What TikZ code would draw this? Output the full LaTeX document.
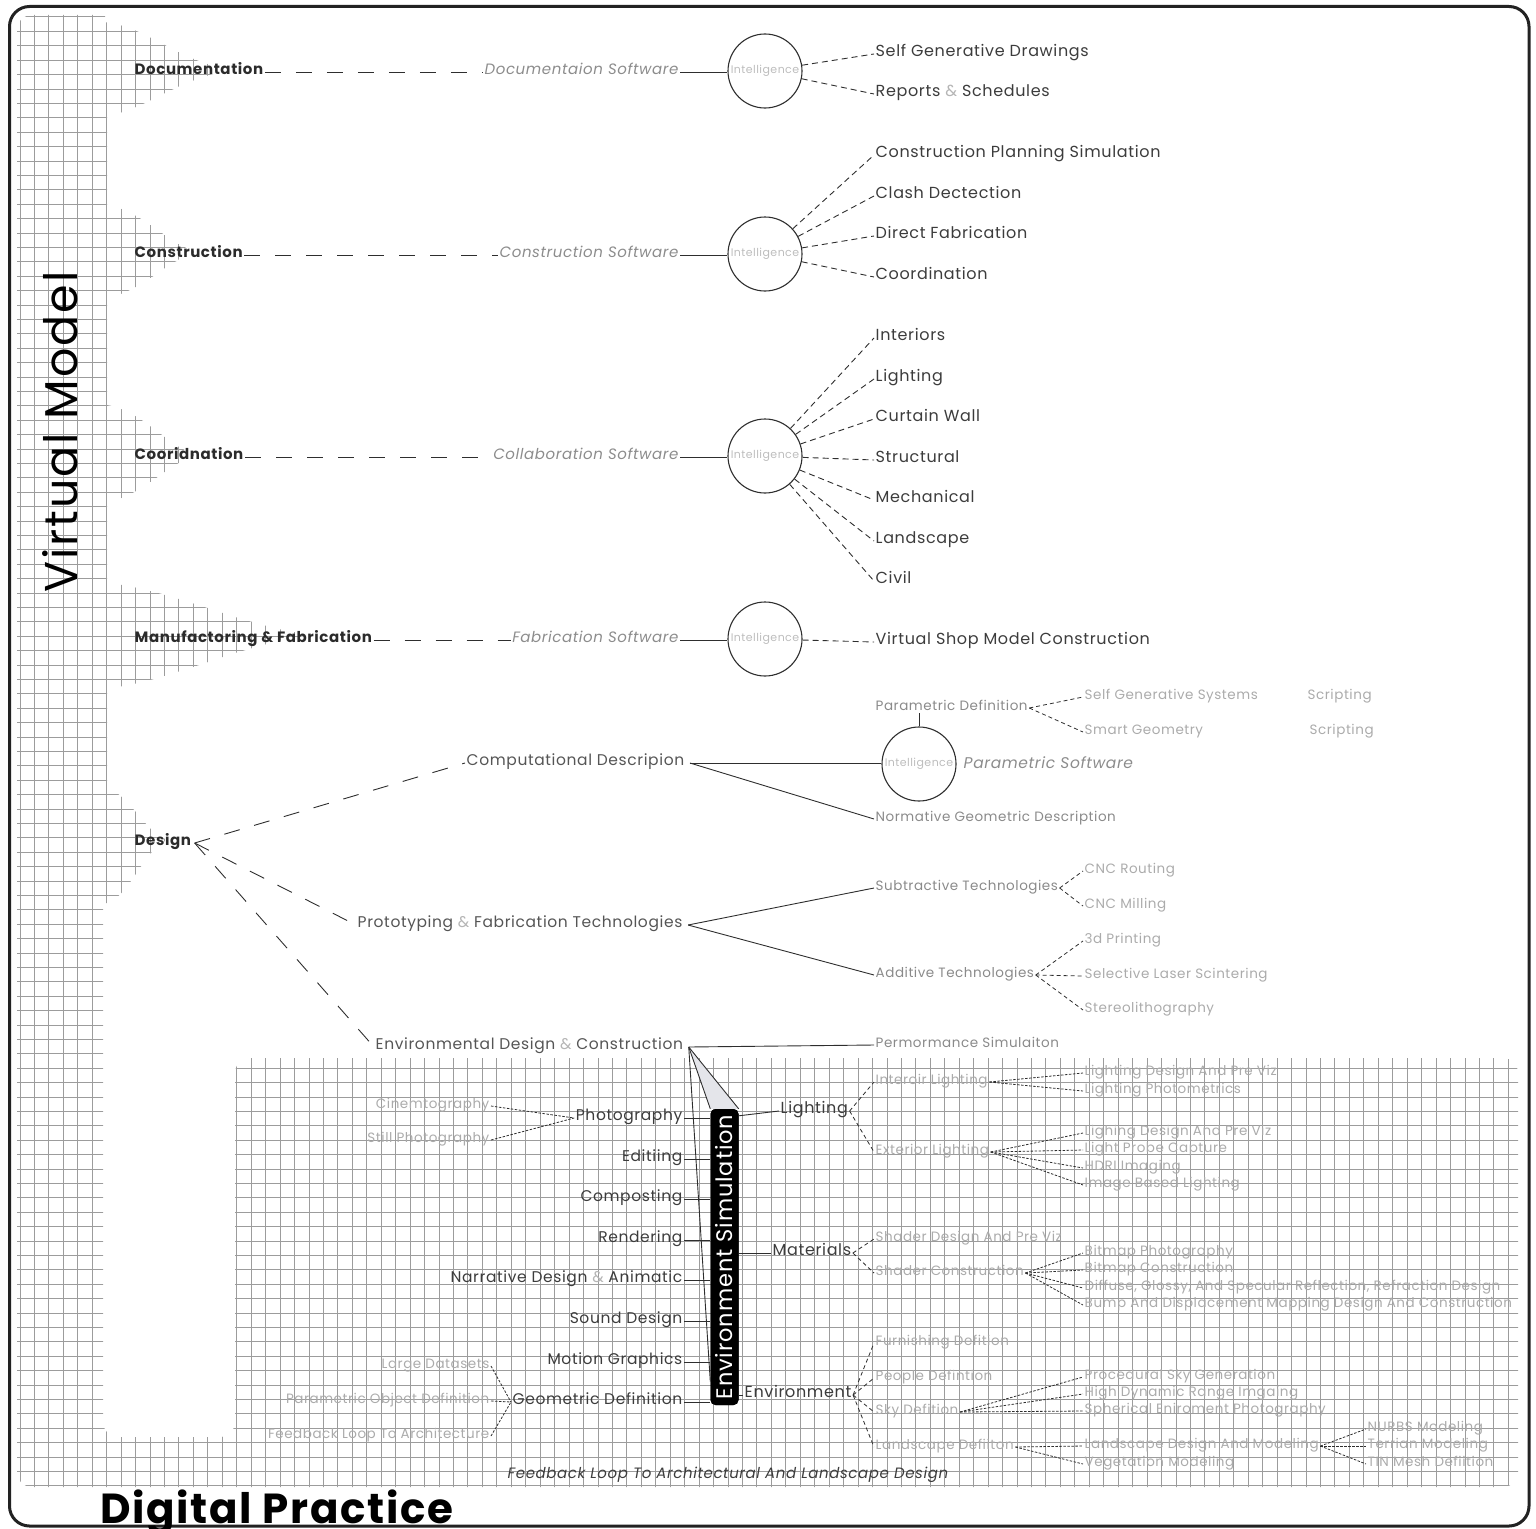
\documentclass[tikz,border=0pt]{standalone}
\usepackage{fontspec}
\setmainfont{Poppins}[LetterSpace=4]
\usetikzlibrary{calc}

\definecolor{framec}{HTML}{222222}
\definecolor{gridc}{HTML}{9C9C9C}
\definecolor{topc}{HTML}{2B2B2B}
\definecolor{itemc}{HTML}{3C3C3C}
\definecolor{subc}{HTML}{555555}
\definecolor{midc}{HTML}{8A8A8A}
\definecolor{faintc}{HTML}{ABABAB}
\definecolor{softc}{HTML}{8C8C8C}
\definecolor{intc}{HTML}{BDBDBD}
\definecolor{ampc}{HTML}{B5B5B5}
\definecolor{fillc}{HTML}{E4E5EA}
\definecolor{linec}{HTML}{2E2E2E}

\newcommand\fsz[1]{\fontsize{#1}{#1}\selectfont}
\newcommand\amp{\textcolor{ampc}{\&}}

\tikzset{
  lbl/.style={inner sep=1.5pt, anchor=mid west, yshift=-3pt},
  rlbl/.style={inner sep=1.5pt, anchor=mid east, yshift=-3pt},
  toplbl/.style={lbl, font=\fsz{15}\bfseries, text=topc},
  item/.style={lbl, font=\fsz{16}, text=itemc},
  itemr/.style={rlbl, font=\fsz{15.5}, text=itemc},
  sublbl/.style={lbl, font=\fsz{15.5}, text=subc},
  midlbl/.style={lbl, font=\fsz{13.5}, text=midc},
  faint/.style={lbl, font=\fsz{13.5}, text=faintc},
  faintr/.style={rlbl, font=\fsz{13.5}, text=faintc},
  soft/.style={rlbl, font=\fsz{15}\itshape, text=softc},
  intel/.style={circle, draw=linec, line width=1.1pt, minimum size=74pt,
                inner sep=0pt, font=\fsz{11}, text=intc},
  wire/.style={draw=linec, line width=0.9pt},
  longdash/.style={wire, dash pattern=on 16pt off 15pt},
  branch/.style={wire, dash pattern=on 6pt off 4pt},
  twig/.style={wire, line width=0.8pt, dash pattern=on 4pt off 3pt},
  fine/.style={wire, line width=0.8pt, dash pattern=on 2.5pt off 1.5pt},
  gridline/.style={draw=gridc, line width=1pt},
  simbar/.style={rotate=90, fill=black, rounded corners=5pt, minimum width=296pt,
                 minimum height=28pt, inner sep=0pt, text=white, font=\fsz{22.5}},
}

\begin{document}
\begin{tikzpicture}[x=1pt,y=-1pt]
\useasboundingbox (0,0) rectangle (1536,1528);

% ---------- graph paper: left column with bells, and the lower field ----------
\begin{scope}
  \clip (17,15) -- (105,15) -- (105,22)
    .. controls (150,28) and (178,62) .. (233,70)
    .. controls (178,78) and (150,108) .. (107,116) -- (107,205)
    .. controls (145,212) and (168,245) .. (198,252)
    .. controls (168,259) and (145,290) .. (107,298) -- (107,405)
    .. controls (145,412) and (168,448) .. (198,455)
    .. controls (168,462) and (145,495) .. (107,502) -- (107,583)
    .. controls (175,590) and (240,626) .. (313,635)
    .. controls (240,644) and (175,680) .. (110,688) -- (107,690) -- (107,788)
    .. controls (130,795) and (145,833) .. (168,840)
    .. controls (145,847) and (130,896) .. (107,903) -- (103,906)
    [rounded corners=15pt] -- (103,1437) -- (235,1437) -- (235,1058)
    -- (1518,1058) -- (1518,1487) -- (17,1487) -- cycle;
  \foreach \i in {0,...,104}
    \draw[gridline] ({20+14.45*\i},10) -- ({20+14.45*\i},1495);
  \foreach \j in {0,...,102}
    \draw[gridline] (10,{17+14.4*\j}) -- (1525,{17+14.4*\j});
\end{scope}

% ---------- frame and titles ----------
\draw[framec, line width=3pt, rounded corners=20pt] (9.5,6.5) rectangle (1529,1526);
\node[rotate=90, font=\fsz{46}, text=black, inner sep=0pt] (vm) at (60,432) {Virtual Model};
\node[anchor=base west, inner sep=0pt, font=\fsz{42}\bfseries, text=black] (dp) at (100,1523) {Digital Practice};

% ---------- top level disciplines ----------
\node[toplbl] (doc) at (133,69) {Documentation};
\node[toplbl] (con) at (133,252) {Construction};
\node[toplbl] (coo) at (133,454) {Cooridnation};
\node[toplbl] (man) at (133,637) {Manufactoring \& Fabrication};
\node[toplbl] (des) at (133,840) {Design};

\node[soft] (sw1) at (680,69) {Documentaion Software};
\node[soft] (sw2) at (680,252) {Construction Software};
\node[soft] (sw3) at (680,454) {Collaboration Software};
\node[soft] (sw4) at (680,637) {Fabrication Software};

\node[intel] (in1) at (765,71) {Intelligence};
\node[intel] (in2) at (765,254) {Intelligence};
\node[intel] (in3) at (765,456) {Intelligence};
\node[intel] (in4) at (765,639) {Intelligence};

\draw[longdash] (doc.mid east) -- (sw1.mid west);
\draw[longdash] (con.mid east) -- (sw2.mid west);
\draw[longdash] (coo.mid east) -- (sw3.mid west);
\draw[longdash] (man.mid east) -- (sw4.mid west);
\foreach \k in {1,2,3,4} \draw[wire] (sw\k.mid east) -- (sw\k.mid east -| in\k.west);

% documentation outputs
\node[item] (d1) at (874,51) {Self Generative Drawings};
\node[item] (d2) at (874,91) {Reports \amp{} Schedules};
\foreach \n in {d1,d2} \draw[branch] (in1) -- (\n.mid west);

% construction outputs
\node[item] (c1) at (874,152) {Construction Planning Simulation};
\node[item] (c2) at (874,193) {Clash Dectection};
\node[item] (c3) at (874,233) {Direct Fabrication};
\node[item] (c4) at (874,274) {Coordination};
\foreach \n in {c1,c2,c3,c4} \draw[branch] (in2) -- (\n.mid west);

% coordination outputs
\node[item] (o1) at (874,335) {Interiors};
\node[item] (o2) at (874,376) {Lighting};
\node[item] (o3) at (874,416) {Curtain Wall};
\node[item] (o4) at (874,457) {Structural};
\node[item] (o5) at (874,497) {Mechanical};
\node[item] (o6) at (874,538) {Landscape};
\node[item] (o7) at (874,578) {Civil};
\foreach \n in {o1,o2,o3,o4,o5,o6,o7} \draw[branch] (in3) -- (\n.mid west);

% manufacturing output
\node[item] (m1) at (874,639) {Virtual Shop Model Construction};
\draw[branch] (in4) -- (m1.mid west);

% ---------- design ----------
\node[sublbl] (comp) at (465,760) {Computational Descripion};
\node[sublbl] (proto) at (356,922) {Prototyping \amp{} Fabrication Technologies};
\node[sublbl] (envd) at (374,1044) {Environmental Design \amp{} Construction};
\coordinate (dx) at ($(des.mid east)+(2,0)$);
\draw[longdash] (dx) -- (comp.mid west);
\draw[longdash] (dx) -- (proto.mid west);
\draw[longdash] (dx) -- (envd.mid west);

% computational description
\node[intel] (in5) at (919,764) {Intelligence};
\node[lbl, font=\fsz{15.5}\itshape, text=softc] (psw) at (962,763) {Parametric Software};
\node[midlbl] (pdef) at (874,705) {Parametric Definition};
\node[midlbl] (norm) at (874,816) {Normative Geometric Description};
\node[faint] (sgs) at (1083,694) {Self Generative Systems};
\node[faint] (smg) at (1083,729) {Smart Geometry};
\node[faint] (scr1) at (1306,694) {Scripting};
\node[faint] (scr2) at (1308,729) {Scripting};
\coordinate (cx) at ($(comp.mid east)+(4,0)$);
\draw[wire] (cx) -- (cx -| in5.west);
\draw[wire] (cx) -- (norm.mid west);
\draw[wire] (in5.north) -- (in5.north |- pdef.south);
\draw[twig] (pdef.mid east) -- (sgs.mid west);
\draw[twig] (pdef.mid east) -- (smg.mid west);

% prototyping and fabrication
\node[midlbl] (subt) at (874,885) {Subtractive Technologies};
\node[midlbl] (addt) at (874,972) {Additive Technologies};
\node[faint] (cnc1) at (1083,868) {CNC Routing};
\node[faint] (cnc2) at (1083,903) {CNC Milling};
\node[faint] (p3d) at (1083,938) {3d Printing};
\node[faint] (sls) at (1083,973) {Selective Laser Scintering};
\node[faint] (stl) at (1083,1007) {Stereolithography};
\coordinate (px) at ($(proto.mid east)+(4,0)$);
\draw[wire] (px) -- (subt.mid west);
\draw[wire] (px) -- (addt.mid west);
\foreach \n in {cnc1,cnc2} \draw[twig] (subt.mid east) -- (\n.mid west);
\foreach \n in {p3d,sls,stl} \draw[twig] (addt.mid east) -- (\n.mid west);

% environmental design and construction
\node[midlbl] (perf) at (874,1042) {Permormance Simulaiton};
\coordinate (ex) at ($(envd.mid east)+(4,0)$);
\node[simbar] (bar) at (724.5,1257) {Environment Simulation};
\fill[fillc] (ex) -- (bar.north east) -- (bar.south east) -- cycle;
\node[simbar] at (bar.center) {Environment Simulation};
\draw[wire] (ex) -- (perf.mid west);
\draw[wire] (ex) -- (bar.north east);
\draw[wire] (ex) -- (bar.south east);
\draw[wire] (ex) -- ($(bar.north west)!0.08!(bar.north east)$);

% media feeding the simulation
\node[itemr] (photo) at (684,1115) {Photography};
\node[itemr] (edit) at (684,1156) {Editiing};
\node[itemr] (compo) at (684,1196) {Composting};
\node[itemr] (rend) at (684,1237) {Rendering};
\node[itemr] (narr) at (684,1277) {Narrative Design \amp{} Animatic};
\node[itemr] (sound) at (684,1318) {Sound Design};
\node[itemr] (motion) at (684,1359) {Motion Graphics};
\node[itemr] (geom) at (684,1399) {Geometric Definition};
\foreach \n in {photo,edit,compo,rend,narr,sound,motion,geom}
  \draw[wire] (\n.mid east) -- (\n.mid east -| bar.north);

\node[faintr] (cin) at (491,1103) {Cinemtography};
\node[faintr] (still) at (491,1137) {Still Photography};
\node[faintr] (large) at (491,1363) {Large Datasets};
\node[faintr] (pod) at (491,1398) {Parametric Object Definition};
\node[faintr] (fla) at (491,1433) {Feedback Loop To Architecture};
\foreach \n in {cin,still} \draw[fine] (\n.mid east) -- (photo.mid west);
\foreach \n in {large,pod,fla} \draw[fine] (\n.mid east) -- (geom.mid west);

% simulation outputs
\node[item] (lig) at (779,1108) {Lighting};
\node[item] (mat) at (771,1250) {Materials};
\node[item] (env) at (743,1392) {Environment};
\draw[wire] ($(bar.south east)+(0,7)$) -- (lig.mid west);
\draw[wire] (mat.mid west -| bar.south) -- (mat.mid west);
\draw[wire] (env.mid west -| bar.south) -- (env.mid west);

\node[faint] (ilig) at (874,1079) {Interoir Lighting};
\node[faint] (elig) at (874,1149) {Exterior Lighting};
\node[faint] (shd) at (874,1236) {Shader Design And Pre Viz};
\node[faint] (shc) at (874,1270) {Shader Construction};
\node[faint] (furn) at (874,1340) {Furnishing Defition};
\node[faint] (peop) at (874,1375) {People Defintion};
\node[faint] (sky) at (874,1409) {Sky Defition};
\node[faint] (land) at (874,1444) {Landscape Defiiton};
\foreach \n in {ilig,elig} \draw[twig] (lig.mid east) -- (\n.mid west);
\foreach \n in {shd,shc} \draw[twig] (mat.mid east) -- (\n.mid west);
\foreach \n in {furn,peop,sky,land} \draw[twig] (env.mid east) -- (\n.mid west);

\node[faint] (l1) at (1083,1070) {Lighting Design And Pre Viz};
\node[faint] (l2) at (1083,1088) {Lighting Photometrics};
\node[faint] (e1) at (1083,1130) {Lighing Design And Pre Viz};
\node[faint] (e2) at (1083,1147) {Light Probe Capture};
\node[faint] (e3) at (1083,1165) {HDRI Imaging};
\node[faint] (e4) at (1083,1182) {Image Based Lighting};
\node[faint] (b1) at (1083,1250) {Bitmap Photography};
\node[faint] (b2) at (1083,1267) {Bitmap Construction};
\node[faint] (b3) at (1083,1285) {Diffuse, Glossy, And Specular Reflection, Refraction Design};
\node[faint] (b4) at (1083,1302) {Bump And Displacement Mapping Design And Construction};
\node[faint] (s1) at (1083,1374) {Procedural Sky Generation};
\node[faint] (s2) at (1083,1391) {High Dynamic Range Imgaing};
\node[faint] (s3) at (1083,1408) {Spherical Eniroment Photography};
\node[faint] (ld1) at (1083,1443) {Landscape Design And Modeling};
\node[faint] (ld2) at (1083,1461) {Vegetation Modeling};
\node[faint] (n1) at (1366,1426) {NURBS Modeling};
\node[faint] (n2) at (1366,1443) {Terrian Modeling};
\node[faint] (n3) at (1366,1461) {TIN Mesh Defiition};
\foreach \n in {l1,l2} \draw[fine] (ilig.mid east) -- (\n.mid west);
\foreach \n in {e1,e2,e3,e4} \draw[fine] (elig.mid east) -- (\n.mid west);
\foreach \n in {b1,b2,b3,b4} \draw[fine] (shc.mid east) -- (\n.mid west);
\foreach \n in {s1,s2,s3} \draw[fine] (sky.mid east) -- (\n.mid west);
\foreach \n in {ld1,ld2} \draw[fine] (land.mid east) -- (\n.mid west);
\foreach \n in {n1,n2,n3} \draw[fine] (ld1.mid east) -- (\n.mid west);

\node[lbl, font=\fsz{15}\itshape, text=itemc] (fb) at (506,1473)
  {Feedback Loop To Architectural And Landscape Design};

\end{tikzpicture}
\end{document}
